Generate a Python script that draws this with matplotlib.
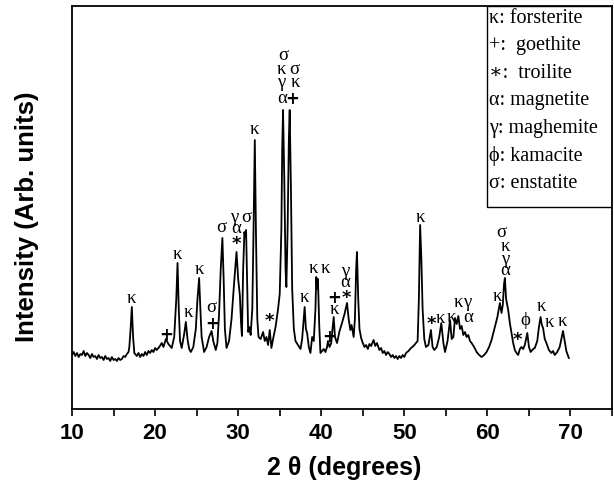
import numpy as np
import matplotlib
matplotlib.use('Agg')
import matplotlib.pyplot as plt
from matplotlib.patches import Rectangle

# XRD pattern (intensity in arbitrary units)
two_theta = [10.0, 10.2, 10.4, 10.6, 10.8, 11.0, 11.2, 11.4, 11.6, 11.8, 12.0, 12.2, 12.4, 12.6,
             12.8, 13.0, 13.2, 13.4, 13.6, 13.8, 14.0, 14.2, 14.4, 14.6, 14.8, 15.0, 15.2, 15.4,
             15.6, 15.8, 16.0, 16.2, 16.4, 16.6, 16.8, 16.9, 17.05, 17.2, 17.35, 17.5, 17.8, 18.0,
             18.2, 18.4, 18.6, 18.8, 19.0, 19.2, 19.4, 19.6,
             19.8, 20.0, 20.2, 20.5, 20.8, 21.0, 21.3, 21.6, 22.0, 22.3, 22.55, 22.7, 22.85, 23.0, 23.2,
             23.5, 23.7, 23.9, 24.1, 24.3, 24.6, 24.9, 25.1, 25.3, 25.45, 25.6, 25.9, 26.2, 26.5,
             26.8, 27.0, 27.3, 27.5, 27.7, 27.9, 28.1, 28.25, 28.4, 28.6, 28.9, 29.2, 29.5, 29.8,
             30.0, 30.2, 30.35, 30.45, 30.6, 30.75, 30.85, 30.95, 31.1, 31.2, 31.35, 31.5, 31.7,
             31.85, 32.0, 32.15, 32.3, 32.45, 32.7, 33.0, 33.2, 33.4, 33.6, 33.8, 34.0, 34.2, 34.5,
             34.8, 35.0, 35.2, 35.3, 35.4, 35.55, 35.7, 35.8, 35.95, 36.1, 36.2, 36.35, 36.5, 36.7,
             36.9, 37.2, 37.5, 37.7, 37.9, 38.0, 38.15, 38.3, 38.5, 38.7, 38.9, 39.1, 39.3, 39.4,
             39.5, 39.6, 39.75, 39.9, 40.1, 40.3, 40.5, 40.7, 40.8, 41.0, 41.2, 41.35, 41.5, 41.65,
             41.9, 42.2, 42.5, 42.8, 43.1, 43.3, 43.5, 43.65, 43.9, 44.05, 44.2, 44.3, 44.45, 44.6,
             44.8, 45.0, 45.2, 45.4, 45.6, 45.8, 46.0, 46.3, 46.5, 46.7, 47.0, 47.2, 47.4, 47.6,
             47.8, 48.0, 48.2, 48.4, 48.6, 48.8, 49.0, 49.2, 49.4, 49.6,
             49.8, 50.0, 50.2, 50.5, 50.8, 51.1, 51.4, 51.6, 51.75, 51.9, 52.05, 52.2, 52.4, 52.6, 52.9,
             53.2, 53.4, 53.6, 53.9, 54.2, 54.45, 54.7, 54.9, 55.2, 55.5, 55.7, 55.9, 56.1, 56.3,
             56.5, 56.7, 56.9, 57.1, 57.3, 57.5, 57.7, 57.9, 58.1, 58.4, 58.7, 59.0, 59.3, 59.6, 59.9,
             60.2, 60.5, 60.9, 61.2, 61.5, 61.7, 61.85, 62.0, 62.1, 62.25, 62.5, 62.7, 62.9, 63.1,
             63.3, 63.5, 63.7, 63.9, 64.1, 64.3, 64.5, 64.8, 65.0, 65.2, 65.5, 65.7, 66.0, 66.2,
             66.4, 66.55, 66.7, 66.9, 67.1, 67.4, 67.7, 67.9, 68.1, 68.4, 68.7, 68.9, 69.1, 69.3,
             69.5, 69.8]
intensity = [54, 57, 53, 56, 52, 55, 54, 58, 53, 56, 54, 51, 55, 52,
             53, 50, 54, 51, 52, 49, 53, 50, 51, 48, 52, 49, 50, 48,
             51, 49, 50, 53, 52, 55, 57, 62, 80, 102, 72, 56, 53, 56,
             52, 55, 53, 57, 54, 58, 56, 59,
             57, 61, 59, 62, 66, 62, 70, 65, 61, 72, 110, 146, 100, 68, 61,
             75, 87, 70, 60, 57, 62, 80, 110, 131, 100, 72, 57, 62, 72,
             78, 68, 59, 66, 95, 140, 171, 130, 80, 61, 68, 90, 125, 157,
             130, 114, 85, 73, 140, 177, 172, 179, 120, 77, 82, 74, 100,
             180, 269, 170, 90, 72, 70, 77, 68, 72, 64, 79, 61, 70, 82,
             100, 115, 180, 260, 299, 230, 140, 122, 180, 270, 299, 220, 120, 80,
             68, 64, 60, 70, 92, 102, 80, 76, 62, 56, 72, 68, 100, 132,
             120, 130, 85, 56, 58, 60, 57, 62, 68, 62, 66, 80, 92, 72,
             66, 78, 86, 95, 106, 90, 79, 84, 72, 90, 140, 157, 110, 80,
             71, 66, 62, 64, 60, 65, 63, 69, 63, 66, 59, 61, 56, 58,
             54, 57, 55, 52, 54, 51, 53, 50, 53, 51,
             54, 52, 56, 58, 61, 63, 66, 68, 110, 184, 150, 100, 70, 62, 64,
             79, 62, 59, 62, 72, 86, 66, 57, 68, 89, 70, 72, 91, 85,
             93, 80, 83, 74, 77, 72, 74, 68, 66, 62, 57, 54, 52, 54, 57,
             62, 69, 82, 92, 106, 96, 104, 125, 131, 110, 99, 86, 76, 66,
             59, 56, 54, 60, 62, 60, 64, 76, 62, 57, 60, 61, 68, 82,
             92, 84, 81, 70, 66, 59, 56, 58, 54, 57, 62, 70, 78, 68,
             58, 51]

# phase labels placed above the peaks: (2theta, height, symbol)
label_x = [17.2, 22.7, 24.0, 25.3, 26.8, 28.0, 29.7, 29.5, 31.0, 32.0,
           35.43, 35.23, 36.75, 35.23, 36.92, 35.35, 37.95, 39.03, 40.45,
           41.53, 42.94, 42.94, 51.88, 54.37, 55.6, 56.5, 57.57, 57.7,
           61.18, 61.7, 62.1, 62.1, 62.19, 64.6, 66.5, 67.43, 69.05]
label_y = [110, 154, 96, 139, 101, 181, 180, 191, 191, 279,
           353, 339, 339, 326, 326, 310, 111, 140, 140,
           99, 137, 126, 191, 91, 92, 106, 106, 92,
           112, 176, 162, 149, 138, 89, 102, 87, 88]
label_txt = ['κ', 'κ', 'κ', 'κ', 'σ', 'σ', 'α', 'γ', 'σ', 'κ',
             'σ', 'κ', 'σ', 'γ', 'κ', 'α', 'κ', 'κ', 'κ',
             'κ', 'γ', 'α', 'κ', 'κ', 'κ', 'κ', 'γ', 'α',
             'κ', 'σ', 'κ', 'γ', 'α', 'ϕ', 'κ', 'κ', 'κ']
# goethite (+) and troilite (*) marks
plus_x = [21.3, 26.85, 36.56, 40.93, 41.53]
plus_y = [74, 85, 310, 72, 111]
star_x = [29.8, 33.7, 43.06, 53.2, 63.6]
star_y = [169, 92, 115, 89, 73]

legend_lines = ['κ: forsterite', '+:  goethite', '∗:  troilite', 'α: magnetite',
                'γ: maghemite', 'ϕ: kamacite', 'σ: enstatite']

serif = ['Liberation Serif', 'DejaVu Serif']

fig = plt.figure(figsize=(6.14, 4.91), dpi=100)
ax = fig.add_axes([0.1173, 0.167, 0.8795, 0.8208])
ax.plot(two_theta, intensity, color='black', lw=1.3)
ax.set_xlim(10, 75)
ax.set_ylim(0, 403)
ax.set_xticks(np.arange(10, 71, 10))
ax.set_xticks(np.arange(15, 76, 10), minor=True)
ax.set_yticks([])
ax.tick_params(axis='x', which='both', direction='out', length=5, width=1.2, pad=5)
for lbl in ax.get_xticklabels():
    lbl.set_fontweight('bold')
    lbl.set_fontsize(16)
    lbl.set_family('Liberation Sans')
for s in ax.spines.values():
    s.set_linewidth(1.3)

for x, y, t in zip(label_x, label_y, label_txt):
    ax.text(x, y, t, family=serif, fontsize=13.5, ha='center', va='center')
for x, y in zip(plus_x, plus_y):
    ax.text(x, y, '+', family='DejaVu Sans', fontsize=12, fontweight='bold',
            ha='center', va='center')
for x, y in zip(star_x, star_y):
    ax.text(x, y - 4, '*', family='DejaVu Sans', fontsize=13, fontweight='bold',
            ha='center', va='center')

# legend box in the upper right corner
ax.add_patch(Rectangle((0.7685, 0.501), 0.2315, 0.499, transform=ax.transAxes,
                       fill=False, lw=1.0, ec='black'))
for i, t in enumerate(legend_lines):
    ax.text(0.773, 0.970 - i * 0.0685, t, transform=ax.transAxes, family=serif,
            fontsize=14.5, ha='left', va='center')

fig.text(344 / 614, 1 - 468 / 491, '2 θ (degrees)', ha='center', va='center',
         fontsize=18, fontweight='bold', family='Liberation Sans')
fig.text(27 / 614, 1 - 217 / 491, 'Intensity (Arb. units)', ha='center', va='center',
         rotation=90, fontsize=18.5, fontweight='bold', family='Liberation Sans')

fig.savefig('out.png', dpi=100)
